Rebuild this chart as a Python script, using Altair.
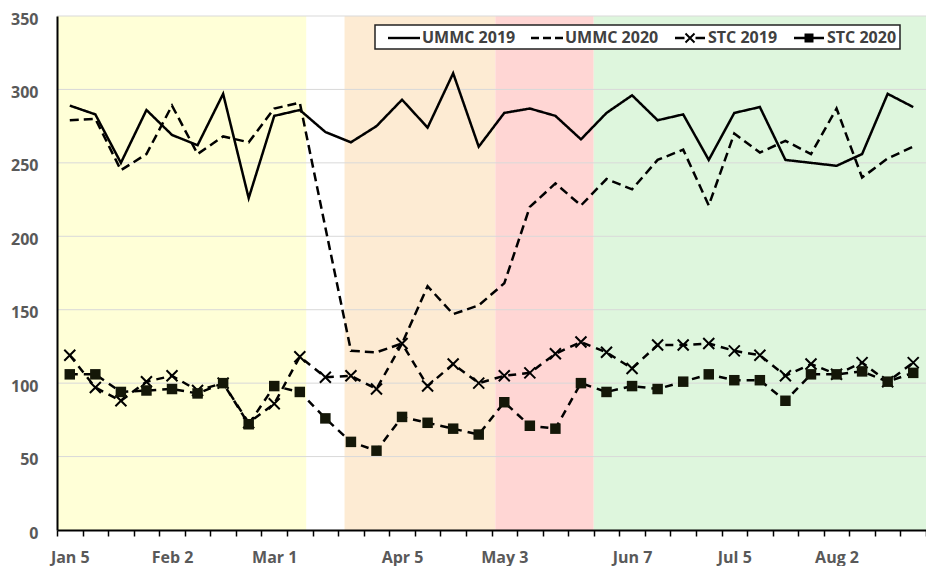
import json
import altair as alt
import pandas as pd

# ---------------- data ----------------
week_labels = ["Jan 5", "Jan 12", "Jan 19", "Jan 26", "Feb 2", "Feb 9", "Feb 16", "Feb 23",
               "Mar 1", "Mar 8", "Mar 15", "Mar 22", "Mar 29", "Apr 5", "Apr 12", "Apr 19",
               "Apr 26", "May 3", "May 10", "May 17", "May 24", "May 31", "Jun 7", "Jun 14",
               "Jun 21", "Jun 28", "Jul 5", "Jul 12", "Jul 19", "Jul 26", "Aug 2", "Aug 9",
               "Aug 16", "Aug 23"]

ummc_2019 = [289, 283, 250, 286, 269, 262, 297, 226, 282, 286, 271, 264, 275, 293, 274, 311, 261,
             284, 287, 282, 266, 284, 296, 279, 283, 252, 284, 288, 252, 250, 248, 256, 297, 288]
ummc_2020 = [279, 280, 245, 256, 289, 256, 268, 264, 287, 291, 206, 122, 121, 127, 166, 147, 153,
             168, 220, 236, 221, 239, 232, 252, 259, 221, 270, 257, 265, 256, 287, 240, 253, 261]
stc_2019 = [119, 97, 88, 101, 105, 95, 100, 73, 86, 118, 104, 105, 96, 127, 98, 113, 100,
            105, 107, 120, 128, 121, 110, 126, 126, 127, 122, 119, 105, 113, 106, 114, 101, 114]
stc_2020 = [106, 106, 94, 95, 96, 93, 100, 72, 98, 94, 76, 60, 54, 77, 73, 69, 65,
            87, 71, 69, 100, 94, 98, 96, 101, 106, 102, 102, 88, 106, 106, 108, 101, 107]

series_names = ["UMMC 2019", "UMMC 2020", "STC 2019", "STC 2020"]
y_ticks = [0, 50, 100, 150, 200, 250, 300, 350]

# shaded phases, in week-slot units along the category axis
phase_names = ["phase 1", "phase 2", "phase 3", "phase 4"]
phase_start = [0, 11.25, 17.15, 21.0]
phase_end = [9.75, 17.15, 21.0, 34]
phase_colors = ["#FFFFD7", "#FDEBD3", "#FFD6D4", "#DEF6DD"]

# ---------------- layout / style ----------------
W, H = 869, 514
FONT = "Open Sans"
n = len(week_labels)
series_dashes = [[1, 0], [9, 5], [8, 6], [8, 6]]

rows = []
for name, vals in zip(series_names, [ummc_2019, ummc_2020, stc_2019, stc_2020]):
    for i, v in enumerate(vals):
        rows.append({"series": name, "idx": i, "value": v})
df = pd.DataFrame(rows)

phase_df = pd.DataFrame({"phase": phase_names, "start": phase_start, "end": phase_end})
grid_df = pd.DataFrame({"tick": y_ticks[1:]})

tick_text = [lab if int(lab.split()[1]) <= 7 else "" for lab in week_labels] + [""]

x_scale = alt.Scale(domain=[0, n], nice=False, zero=False)
y_scale = alt.Scale(domain=[y_ticks[0], y_ticks[-1]], nice=False)

x_axis = alt.Axis(
    values=list(range(n + 1)),
    labelExpr=f"{json.dumps(tick_text)}[datum.value]",
    labelOffset=W / n / 2,
    labelFlush=False, labelOverlap=False, labelBound=False,
    labelPadding=13, tickSize=6, tickWidth=1.5, tickColor="black",
    domainColor="black", domainWidth=2, grid=False, title=None,
    labelFont=FONT, labelFontSize=16, labelFontWeight="bold", labelColor="#595959",
    zindex=1,
)
y_axis = alt.Axis(
    values=y_ticks, ticks=False, tickSize=0, labelPadding=19, labelOffset=3,
    domainColor="black", domainWidth=2, grid=False, title=None,
    labelFont=FONT, labelFontSize=16, labelFontWeight="bold", labelColor="#595959",
    zindex=1,
)

X = alt.X("pos:Q", scale=x_scale, axis=x_axis)
Y = alt.Y("value:Q", scale=y_scale, axis=y_axis)

shading = alt.Chart(phase_df).mark_rect().encode(
    x=alt.X("start:Q", scale=x_scale, axis=x_axis),
    x2="end:Q",
    y=alt.YDatum(y_ticks[0], scale=y_scale, axis=y_axis),
    y2=alt.Y2Datum(y_ticks[-1]),
    color=alt.Color("phase:N", scale=alt.Scale(domain=phase_names, range=phase_colors), legend=None),
)

grid = alt.Chart(grid_df).mark_rule(color="#D9D9D9", strokeWidth=1).encode(
    y=alt.Y("tick:Q", scale=y_scale, axis=y_axis)
)

base = alt.Chart(df).transform_calculate(pos="datum.idx + 0.5")

line_layers = [
    base.transform_filter(alt.datum.series == name)
    .mark_line(color="black", strokeWidth=2.5, strokeDash=dash)
    .encode(x=X, y=Y)
    for name, dash in zip(series_names, series_dashes)
]

x_marks = base.transform_filter(alt.datum.series == "STC 2019").mark_point(
    shape="M-1,-1L1,1M-1,1L1,-1", size=121, filled=False, color="black",
    strokeWidth=2, opacity=1,
).encode(x=X, y=Y)

sq_marks = base.transform_filter(alt.datum.series == "STC 2020").mark_square(
    size=110, filled=True, color="#141708", opacity=1,
).encode(x=X, y=Y)

# legend glyphs drawn as filled outlines (1 unit = 10 px)
BAR = "M{a},-0.12L{b},-0.12L{b},0.12L{a},0.12Z"
X_GLYPH = ("M-0.52,-0.38L0.38,0.52L0.52,0.38L-0.38,-0.52Z"
           "M-0.52,0.38L-0.38,0.52L0.52,-0.38L0.38,-0.52Z")
SQ_GLYPH = "M-0.45,-0.45L0.45,-0.45L0.45,0.45L-0.45,0.45Z"
legend_paths = [
    BAR.format(a=-1.6, b=1.6),
    BAR.format(a=-1.6, b=-0.8) + BAR.format(a=-0.4, b=0.4) + BAR.format(a=0.8, b=1.6),
    BAR.format(a=-1.5, b=-0.55) + BAR.format(a=0.55, b=1.5) + X_GLYPH,
    BAR.format(a=-1.5, b=-0.4) + BAR.format(a=0.4, b=1.5) + SQ_GLYPH,
]

# invisible points that only carry the combined legend
legend_layer = base.mark_point(
    filled=True, fill="black", strokeWidth=0, size=400, opacity=0,
).encode(
    x=X, y=Y,
    shape=alt.Shape(
        "series:N",
        scale=alt.Scale(domain=series_names, range=legend_paths),
        legend=alt.Legend(
            title=None, orient="none", legendX=318, legendY=9, direction="horizontal",
            symbolSize=400, symbolStrokeWidth=0, symbolFillColor="black", symbolOpacity=1,
            symbolOffset=16,
            labelFont=FONT, labelFontSize=16, labelFontWeight="bold", labelColor="#404040",
            labelOffset=8, columnPadding=5, padding=3,
            strokeColor="#222222", fillColor="white",
        ),
    ),
)

chart = alt.layer(shading, grid, *line_layers, x_marks, sq_marks, legend_layer).properties(
    width=W, height=H,
    padding={"left": 49, "top": 8, "right": 0, "bottom": 36},
    autosize=alt.AutoSizeParams(type="none"),
).configure_view(stroke=None).configure_legend(strokeWidth=1.5)

chart.save("out.html", embed_options={"renderer": "svg", "actions": False})
